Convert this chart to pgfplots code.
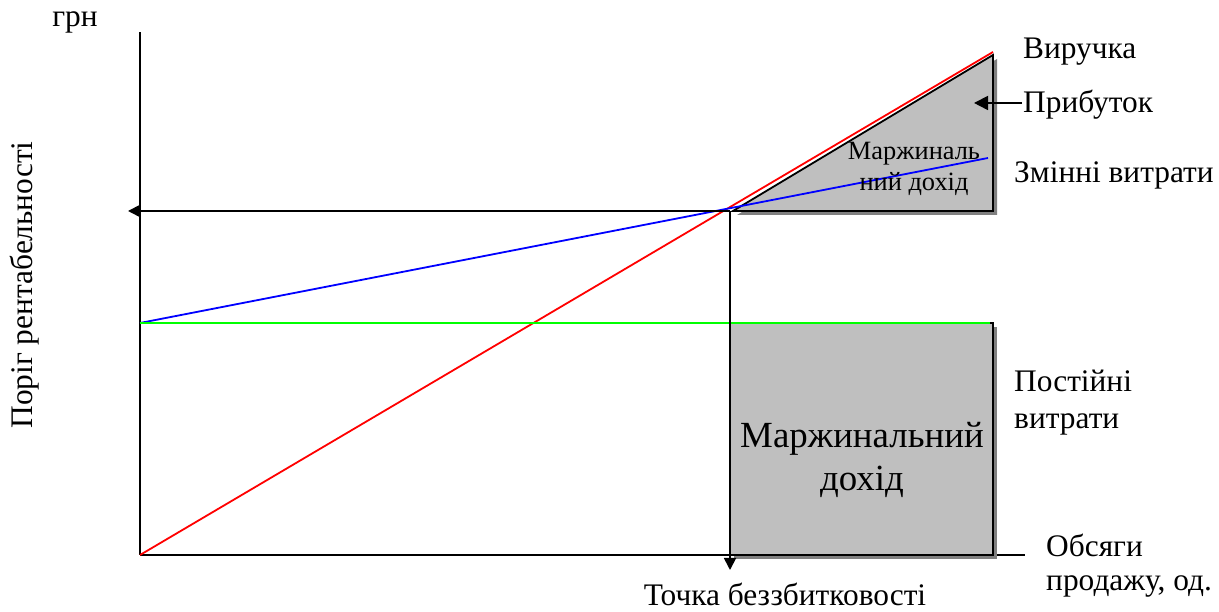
\documentclass[border=0pt]{standalone}
\usepackage{fontspec}
\setmainfont{Liberation Serif}
\usepackage{pgfplots}
\pgfplotsset{compat=1.18}
\usetikzlibrary{arrows.meta}
\begin{document}
\begin{tikzpicture}[x=1bp,y=1bp, lbl/.style={font=\fontsize{31.5}{37}\selectfont, align=left, inner sep=0pt}]
\path[use as bounding box] (0,0) rectangle (1219,612);
\begin{axis}[at={(140bp,57bp)}, anchor=south west,
  axis x line=bottom, axis y line=left,
  axis line style={line width=1.8bp, -},
  xtick=\empty, ytick=\empty,
  xmin=0, xmax=885, ymin=0, ymax=523,
  width=885bp, height=523bp, scale only axis, clip=false]
% shadows
\addplot[fill=black!50, draw=none] coordinates {(597,340)(857,496)(857,340)} -- cycle;
\addplot[fill=black!50, draw=none] coordinates {(594,-4)(857,-4)(857,228)(594,228)} -- cycle;
% shapes
\addplot[fill=black!25, draw=black, line width=1.8bp] coordinates {(593,344)(853,500)(853,344)} -- cycle;
\addplot[fill=black!25, draw=black, line width=1.8bp] coordinates {(590,0)(853,0)(853,232)(590,232)} -- cycle;
% lines
\addplot[red, line width=1.8bp] coordinates {(0,0)(853,503)};
\addplot[blue, line width=1.8bp] coordinates {(0,232)(848,397)};
\addplot[green, line width=1.8bp] coordinates {(0,232)(850,232)};
% arrows
\addplot[black, line width=1.8bp, -{Triangle[length=12bp,width=12bp]}] coordinates {(590,344)(-12,344)};
\addplot[black, line width=1.8bp, -{Triangle[length=12bp,width=12bp]}] coordinates {(590,344)(590,-15)};
\addplot[black, line width=1.8bp, -{Triangle[length=14bp,width=14bp]}] coordinates {(882,452)(834,452)};
% labels
\node[lbl] at (axis cs:-65,533) {грн};
\node[lbl, rotate=90] at (axis cs:-115,270) {Поріг рентабельності};
\node[lbl, anchor=west] at (axis cs:883,503) {Виручка};
\node[lbl, anchor=west] at (axis cs:883,450) {Прибуток};
\node[lbl, anchor=west] at (axis cs:874,380) {Змінні витрати};
\node[lbl, anchor=west] at (axis cs:874,152) {Постійні\\витрати};
\node[lbl, anchor=west, font=\fontsize{31.5}{34}\selectfont] at (axis cs:906,-11) {Обсяги\\продажу, од.};
\node[lbl] at (axis cs:645,-39) {Точка беззбитковості};
\node[lbl, align=center, font=\fontsize{37}{43}\selectfont] at (axis cs:722,95) {Маржинальний\\дохід};
\node[lbl, align=center, font=\fontsize{26.5}{31}\selectfont] at (axis cs:774,386) {Маржиналь\\ний дохід};
\end{axis}
\end{tikzpicture}
\end{document}
